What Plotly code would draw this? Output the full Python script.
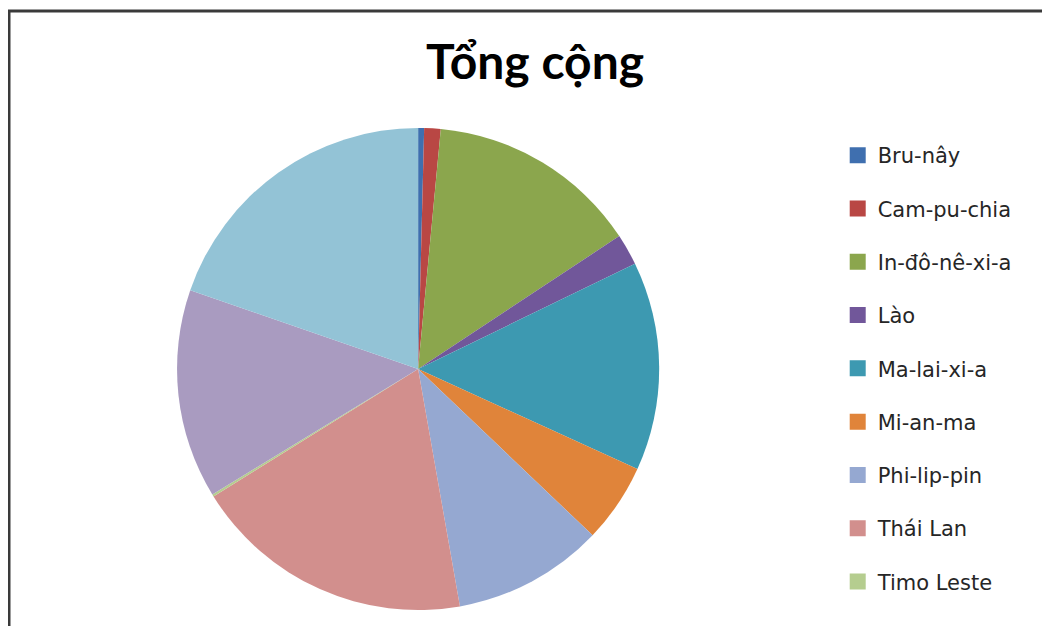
import plotly.graph_objs as go

# share of each country (%), clockwise from 12 o'clock
countries = ['Bru-nây', 'Cam-pu-chia', 'In-đô-nê-xi-a', 'Lào', 'Ma-lai-xi-a', 'Mi-an-ma',
             'Phi-lip-pin', 'Thái Lan', 'Timo Leste', 'Việt Nam', 'Xin-ga-po']
shares = [0.4, 1.1, 14.2, 2.1, 14.0, 5.3, 10.1, 18.9, 0.15, 14.0, 19.7]
colors = ['#3F6FAF', '#B94744', '#8BA64D', '#71579A', '#3D99B1', '#E0843A',
          '#95A8D1', '#D28F8D', '#B5CD8F', '#A99BC0', '#93C3D6']

# the legend in the picture is cut off after the ninth entry
legend_count = 9

fig = go.Figure()

fig.add_trace(
    go.Pie(
        labels=countries,
        values=shares,
        sort=False,
        direction='clockwise',
        rotation=0,
        marker=dict(colors=colors, line=dict(width=0)),
        textinfo='none',
        hovertemplate='%{label}: %{value}%<extra></extra>',
        showlegend=False,
        domain=dict(x=[0.1602, 0.6198], y=[0.0384, 0.8124])
    )
)

# legend entries (square swatches), one group each so the gap can be set
for i in range(legend_count):
    fig.add_trace(
        go.Scatter(
            x=[None], y=[None],
            mode='markers',
            name=countries[i],
            legendgroup=countries[i],
            marker=dict(symbol='square', size=16, color=colors[i]),
            hoverinfo='skip'
        )
    )

fig.update_layout(
    width=1050,
    height=626,
    paper_bgcolor='white',
    plot_bgcolor='white',
    margin=dict(l=1, r=0, t=3, b=0),
    title=dict(text='<b>Tổng cộng</b>', x=0.502, xref='container', xanchor='center',
               y=0.914, yref='container', yanchor='middle',
               font=dict(family='Lato', size=48, color='black')),
    xaxis=dict(visible=False),
    yaxis=dict(visible=False),
    legend=dict(x=0.790, xanchor='left', y=0.801, yanchor='top',
                font=dict(family='DejaVu Sans', size=21, color='#262626'),
                tracegroupgap=23, bgcolor='rgba(0,0,0,0)'),
    shapes=[dict(type='rect', xref='paper', yref='paper', x0=0, x1=1.02, y0=-0.02, y1=1,
                 line=dict(color='#3a3a3a', width=3))]
)

fig.write_html("out.html")
